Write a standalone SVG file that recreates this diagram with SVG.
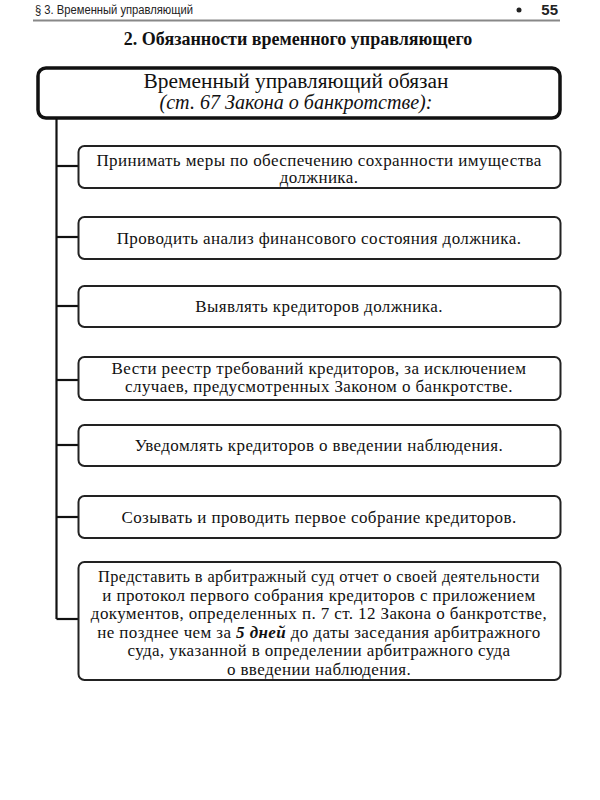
<svg xmlns="http://www.w3.org/2000/svg" width="600" height="800" viewBox="0 0 600 800">
<style>
.hdr{font-family:"Liberation Sans",Arial,sans-serif;font-size:12px;fill:#222}
.pg{font-family:"Liberation Sans",Arial,sans-serif;font-size:15px;font-weight:bold;fill:#222}
.title{font-family:"Liberation Serif","Times New Roman",serif;font-size:18px;font-weight:bold;fill:#111;text-anchor:middle}
.main{fill:#fff;stroke:#111;stroke-width:3.5}
.box{fill:#fff;stroke:#222;stroke-width:2}
.t{font-family:"Liberation Serif","Times New Roman",serif;font-size:17px;letter-spacing:0.4px;fill:#111;text-anchor:middle}
.mt{font-family:"Liberation Serif","Times New Roman",serif;font-size:20px;fill:#111;text-anchor:middle}
.conn{stroke:#111;stroke-width:2.2;fill:none}
</style>
<rect width="600" height="800" fill="#fff"/>
<g id="header">
<text class="hdr" x="35" y="14" textLength="158" lengthAdjust="spacingAndGlyphs">§ 3. Временный управляющий</text>
<circle cx="519" cy="10" r="2.5" fill="#222"/>
<text class="pg" x="558" y="15" text-anchor="end">55</text>
<line x1="33" y1="20.5" x2="560" y2="20.5" stroke="#888" stroke-width="2"/>
<text class="title" x="298" y="45">2. Обязанности временного управляющего</text>
</g>
<g id="connectors">
<path class="conn" d="M56.5 118 V619"/>
<path class="conn" d="M56.5 166 H78"/>
<path class="conn" d="M56.5 237 H78"/>
<path class="conn" d="M56.5 306 H78"/>
<path class="conn" d="M56.5 380 H78"/>
<path class="conn" d="M56.5 445 H78"/>
<path class="conn" d="M56.5 517 H78"/>
<path class="conn" d="M56.5 619 H78"/>
</g>
<g id="top">
<rect class="main" x="38" y="68" width="522" height="50" rx="8"/>
<text class="mt" x="296" y="88" textLength="305" lengthAdjust="spacingAndGlyphs">Временный управляющий обязан</text>
<text class="mt" x="296" y="109" font-style="italic" textLength="273" lengthAdjust="spacingAndGlyphs">(ст. 67 Закона о банкротстве):</text>
</g>
<g id="n1">
<rect class="box" x="78.5" y="146" width="482" height="42" rx="6"/>
<text class="t" x="319" y="165.5">Принимать меры по обеспечению сохранности имущества</text>
<text class="t" x="319" y="183">должника.</text>
</g>
<g id="n2">
<rect class="box" x="78.5" y="217" width="482" height="42" rx="6"/>
<text class="t" x="319" y="244">Проводить анализ финансового состояния должника.</text>
</g>
<g id="n3">
<rect class="box" x="78.5" y="286" width="482" height="41" rx="6"/>
<text class="t" x="319" y="312">Выявлять кредиторов должника.</text>
</g>
<g id="n4">
<rect class="box" x="78.5" y="357" width="482" height="43" rx="6"/>
<text class="t" x="319" y="374">Вести реестр требований кредиторов, за исключением</text>
<text class="t" x="319" y="392">случаев, предусмотренных Законом о банкротстве.</text>
</g>
<g id="n5">
<rect class="box" x="78.5" y="425" width="482" height="41" rx="6"/>
<text class="t" x="319" y="451">Уведомлять кредиторов о введении наблюдения.</text>
</g>
<g id="n6">
<rect class="box" x="78.5" y="496" width="482" height="42" rx="6"/>
<text class="t" x="319" y="523">Созывать и проводить первое собрание кредиторов.</text>
</g>
<g id="n7">
<rect class="box" x="78.5" y="562" width="482" height="118" rx="6"/>
<text class="t" x="319" y="582" textLength="442" lengthAdjust="spacingAndGlyphs">Представить в арбитражный суд отчет о своей деятельности</text>
<text class="t" x="319" y="600.5">и протокол первого собрания кредиторов с приложением</text>
<text class="t" x="319" y="619">документов, определенных п. 7 ст. 12 Закона о банкротстве,</text>
<text class="t" x="319" y="637.5">не позднее чем за <tspan font-weight="bold" font-style="italic">5 дней</tspan> до даты заседания арбитражного</text>
<text class="t" x="319" y="656">суда, указанной в определении арбитражного суда</text>
<text class="t" x="319" y="674.5">о введении наблюдения.</text>
</g>
</svg>
